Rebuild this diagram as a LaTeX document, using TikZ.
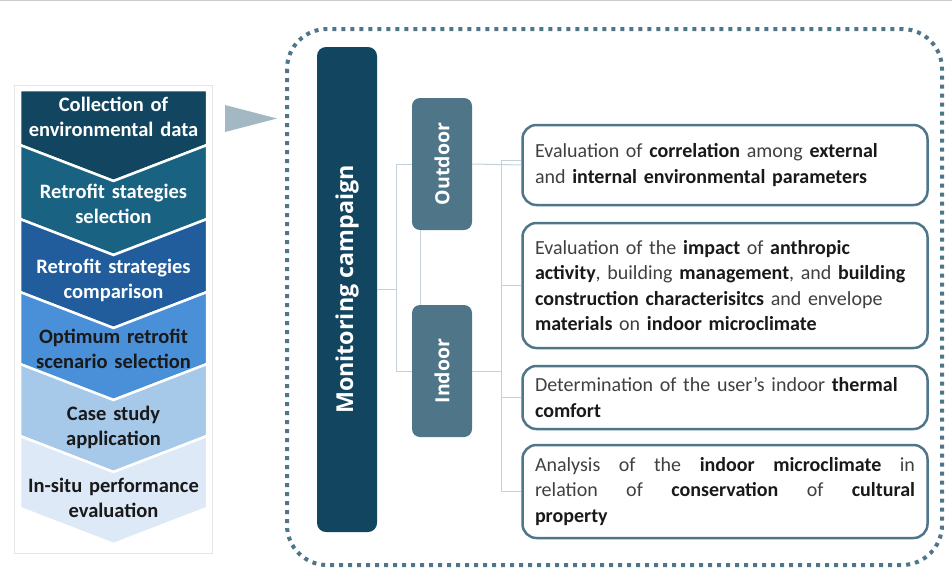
\documentclass[tikz,border=0pt]{standalone}
\usepackage{fontspec}
\setmainfont{Carlito}
\newfontfamily\labelfont{Open Sans}
\usepackage{tikz}
\usetikzlibrary{positioning}

\definecolor{darkteal}{HTML}{124660}
\definecolor{tealmid}{HTML}{1A6282}
\definecolor{bluedeep}{HTML}{215D9C}
\definecolor{bluemid}{HTML}{4A90D9}
\definecolor{bluelight}{HTML}{A6C9EA}
\definecolor{bluepale}{HTML}{DDE9F6}
\definecolor{slate}{HTML}{4F7589}
\definecolor{linkgray}{HTML}{C3D1D8}
\definecolor{arrowgray}{HTML}{A3B8C2}
\definecolor{txtgray}{HTML}{404040}

\newcommand\kw[1]{\textbf{\color{black!90}#1}}

\begin{document}
\begin{tikzpicture}[x=1pt,y=-1pt,
  link/.style={draw=linkgray,line width=1pt},
  steptext/.style={align=center,font=\bfseries\fontsize{20.5}{25}\selectfont,text width=190pt,inner sep=0pt},
  bar/.style={fill=#1,rounded corners=9pt,rotate=90,text=white,font=\labelfont\bfseries\fontsize{23.3}{27}\selectfont},
  goalbox/.style={draw=slate,line width=2.5pt,fill=white,rounded corners=14pt,minimum width=405pt,text width=380pt,align=left,font=\fontsize{20}{25.2}\selectfont,text=txtgray}
]
  \useasboundingbox (0,0) rectangle (952,576);
  \draw[gray!40,line width=0.8pt] (0,0.5) -- (952,0.5);
  \draw[gray!20] (14,85) rectangle (212,553);

  \filldraw[fill=darkteal,draw=white,line width=2.5pt] (20,90) -- (207,90) -- (207,145) -- (113.5,181) -- (20,145) -- cycle;
  \foreach \t/\b/\c in {145/219/tealmid,219/292/bluedeep,292/364/bluemid,364/436/bluelight,436/508/bluepale}
    \filldraw[fill=\c,draw=white,line width=2.5pt] (20,\t) -- (113.5,\t+36) -- (207,\t) -- (207,\b) -- (113.5,\b+36) -- (20,\b) -- cycle;

  \node[steptext,text=white] (s1) at (113.5,117) {Collection of\\environmental data};
  \node[steptext,text=white] (s2) at (113.5,204) {Retrofit stategies\\selection};
  \node[steptext,text=white] (s3) at (113.5,280) {Retrofit strategies\\comparison};
  \node[steptext,text=black!90] (s4) at (113.5,349) {Optimum retrofit\\scenario selection};
  \node[steptext,text=black!90] (s5) at (113.5,427) {Case study\\application};
  \node[steptext,text=black!90] (s6) at (113.5,498) {In-situ performance\\evaluation};

  \fill[arrowgray] (225,105) -- (277,118.5) -- (225,132) -- cycle;

  \draw[slate,line width=4pt,dash pattern=on 4pt off 5pt,rounded corners=40pt] (287,29) rectangle (942,565);

  \node[bar=darkteal,minimum width=485pt,minimum height=60pt] (mc) at (347,289.5) {Monitoring campaign};
  \node[bar=slate,minimum width=132pt,minimum height=60pt,rounded corners=8pt,font=\labelfont\bfseries\fontsize{19.5}{22}\selectfont] (out) at (442,164) {Outdoor};
  \node[bar=slate,minimum width=132pt,minimum height=60pt,rounded corners=8pt,font=\labelfont\bfseries\fontsize{19.5}{22}\selectfont] (ind) at (442,371) {Indoor};

  \node[goalbox,minimum height=80pt] (b1) at (725,165) {Evaluation of \kw{correlation} among \kw{external}\\and \kw{internal environmental parameters}};
  \node[goalbox,minimum height=125pt] (b2) at (725,285.5) {Evaluation of the \kw{impact} of \kw{anthropic}\\\kw{activity}, building \kw{management}, and \kw{building}\\\kw{construction characterisitcs} and envelope\\\kw{materials} on \kw{indoor microclimate}};
  \node[goalbox,minimum height=63pt] (b3) at (725,397.5) {Determination of the user’s indoor \kw{thermal}\\\kw{comfort}};
  \node[goalbox,minimum height=93pt,align=justify] (b4) at (725,491.5) {Analysis of the \kw{indoor microclimate} in\linebreak relation of \kw{conservation} of \kw{cultural}\linebreak \kw{property}};

  \coordinate (hub) at ([xshift=19pt]mc.south);
  \coordinate (spine) at (501,0);
  \draw[link] (mc.south) -- (hub);
  \draw[link] (out.north) -| (hub) |- (ind.north);
  \draw[link] ([xshift=-22pt]out.west) -- ([xshift=-22pt]ind.east);
  \draw[link] (out.south) -- (b1.west);
  \draw[link] (ind.south) -- (ind.south -| spine);
  \draw[link] ([yshift=5pt]b1.west -| spine) -- (b4.west -| spine);
  \draw[link] ([yshift=5pt]b1.west -| spine) -- ([yshift=5pt]b1.west);
  \foreach \b in {b2,b3,b4}
    \draw[link] (\b.west -| spine) -- (\b.west);
\end{tikzpicture}
\end{document}
